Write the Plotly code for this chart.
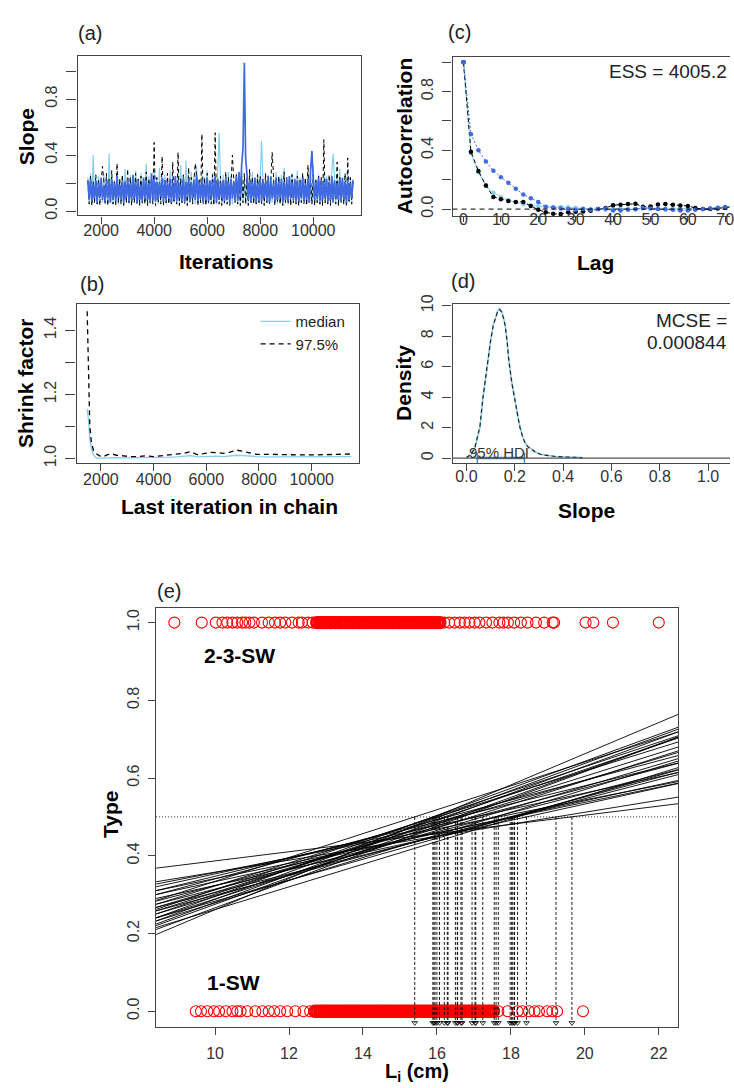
import plotly.graph_objects as go

W, H = 734, 1088
TICKF = "Liberation Sans Narrow, Arial Narrow, Liberation Sans, Arial, sans-serif"
TXTF = "Liberation Sans, Arial, sans-serif"
FRAME = "#444"
TICKC = "#333"
SKY = "#87CEEB"
ROYAL = "#4169E1"
STEEL = "#4682B4"
RED = "#FF0000"

# ---------------- (a) MCMC trace of the slope (3 chains) ----------------
iters = list(range(1500, 11501, 50))
chain_sky = [
    0.24,0.06,0.27,0.05,0.40,0.07,0.22,0.05,0.25,0.08,0.21,0.06,0.26,0.05,0.23,0.07,0.41,0.06,0.24,0.05,
    0.22,0.07,0.28,0.05,0.23,0.06,0.25,0.04,0.30,0.07,0.22,0.05,0.26,0.06,0.24,0.08,0.29,0.05,0.23,0.06,
    0.27,0.05,0.22,0.07,0.34,0.06,0.25,0.05,0.23,0.07,0.28,0.06,0.24,0.05,0.31,0.07,0.22,0.06,0.26,0.05,
    0.23,0.07,0.29,0.05,0.25,0.06,0.22,0.08,0.27,0.05,0.33,0.06,0.24,0.07,0.36,0.05,0.23,0.06,0.28,0.07,
    0.25,0.05,0.32,0.06,0.23,0.07,0.26,0.05,0.24,0.06,0.29,0.05,0.22,0.07,0.27,0.06,0.25,0.05,0.30,0.56,
    0.24,0.06,0.26,0.05,0.23,0.07,0.28,0.06,0.25,0.05,0.22,0.07,0.27,0.06,0.24,0.05,0.29,0.07,0.23,0.06,
    0.26,0.05,0.24,0.07,0.28,0.06,0.23,0.05,0.27,0.06,0.25,0.50,0.24,0.06,0.22,0.07,0.26,0.05,0.25,0.06,
    0.23,0.07,0.28,0.05,0.24,0.06,0.26,0.05,0.31,0.07,0.22,0.06,0.25,0.05,0.27,0.07,0.23,0.06,0.29,0.05,
    0.24,0.06,0.26,0.07,0.22,0.05,0.28,0.06,0.25,0.05,0.33,0.07,0.23,0.06,0.26,0.05,0.24,0.07,0.27,0.06,
    0.25,0.05,0.23,0.07,0.28,0.41,0.24,0.06,0.26,0.05,0.30,0.07,0.23,0.06,0.25,0.05,0.27,0.06,0.24,0.07,0.23]
chain_black = [
    0.22,0.05,0.25,0.04,0.21,0.06,0.26,0.05,0.23,0.04,0.20,0.32,0.22,0.05,0.27,0.04,0.23,0.06,0.29,0.05,
    0.21,0.04,0.34,0.06,0.23,0.05,0.26,0.04,0.22,0.06,0.30,0.05,0.24,0.04,0.21,0.06,0.27,0.05,0.23,0.04,
    0.25,0.06,0.22,0.05,0.28,0.04,0.23,0.06,0.26,0.05,0.49,0.04,0.24,0.06,0.21,0.05,0.39,0.04,0.23,0.06,
    0.27,0.05,0.22,0.04,0.35,0.06,0.24,0.05,0.42,0.04,0.23,0.06,0.26,0.05,0.21,0.04,0.31,0.06,0.24,0.05,
    0.22,0.34,0.25,0.04,0.23,0.06,0.55,0.05,0.24,0.04,0.27,0.06,0.22,0.05,0.26,0.04,0.56,0.06,0.23,0.05,
    0.25,0.04,0.22,0.06,0.28,0.05,0.24,0.04,0.21,0.40,0.23,0.06,0.26,0.05,0.22,0.04,0.25,0.06,0.27,0.05,
    0.23,0.04,0.30,0.06,0.24,0.05,0.22,0.04,0.26,0.06,0.25,0.05,0.23,0.04,0.27,0.06,0.24,0.05,0.22,0.42,
    0.26,0.04,0.23,0.06,0.25,0.05,0.21,0.04,0.28,0.06,0.24,0.05,0.22,0.04,0.26,0.06,0.23,0.05,0.25,0.04,
    0.22,0.06,0.27,0.05,0.24,0.04,0.33,0.06,0.23,0.05,0.26,0.04,0.22,0.06,0.25,0.05,0.24,0.04,0.51,0.06,
    0.23,0.05,0.26,0.04,0.24,0.06,0.22,0.05,0.35,0.04,0.25,0.06,0.23,0.05,0.27,0.04,0.38,0.06,0.24,0.05,0.23]
chain_royal = [
    0.21,0.08,0.23,0.07,0.19,0.09,0.22,0.06,0.20,0.10,0.24,0.08,0.18,0.07,0.22,0.09,0.21,0.06,0.23,0.08,
    0.20,0.07,0.25,0.09,0.19,0.08,0.22,0.06,0.21,0.10,0.23,0.07,0.20,0.08,0.26,0.09,0.21,0.06,0.22,0.08,
    0.19,0.07,0.24,0.09,0.22,0.08,0.20,0.06,0.27,0.09,0.23,0.07,0.21,0.08,0.20,0.10,0.24,0.07,0.22,0.08,
    0.21,0.09,0.23,0.06,0.20,0.08,0.25,0.07,0.22,0.09,0.19,0.08,0.24,0.06,0.21,0.10,0.23,0.07,0.20,0.09,
    0.22,0.08,0.26,0.07,0.21,0.09,0.23,0.06,0.20,0.08,0.24,0.07,0.22,0.09,0.21,0.08,0.25,0.06,0.23,0.08,
    0.20,0.09,0.22,0.07,0.24,0.08,0.21,0.06,0.23,0.09,0.20,0.08,0.25,0.07,0.28,0.10,0.33,0.45,1.06,0.38,
    0.26,0.08,0.22,0.07,0.21,0.09,0.24,0.06,0.20,0.08,0.23,0.07,0.22,0.09,0.21,0.08,0.25,0.06,0.22,0.09,
    0.20,0.07,0.24,0.08,0.21,0.09,0.23,0.06,0.20,0.08,0.22,0.07,0.25,0.09,0.21,0.08,0.23,0.06,0.22,0.08,
    0.21,0.09,0.24,0.07,0.20,0.08,0.23,0.06,0.30,0.43,0.22,0.08,0.21,0.09,0.24,0.07,0.22,0.08,0.20,0.09,
    0.23,0.07,0.21,0.08,0.25,0.06,0.22,0.09,0.20,0.08,0.23,0.07,0.24,0.09,0.21,0.06,0.22,0.08,0.20,0.09,0.21]

# ---------------- (b) Gelman shrink factor ----------------
shrink_iter = [1480,1530,1580,1640,1720,1820,1950,2100,2250,2400,
               2600,2850,3100,3400,3700,4000,4300,4600,4900,5150,
               5400,5650,5900,6150,6400,6650,6900,7150,7400,7650,
               7900,8300,8700,9100,9600,10100,10600,11100,11500]
shrink_median = [1.155,1.12,1.06,1.03,1.01,1.002,1.0,1.001,1.003,1.004,
                 1.003,1.002,1.002,1.002,1.003,1.002,1.003,1.004,1.005,1.007,
                 1.009,1.005,1.006,1.008,1.007,1.006,1.008,1.010,1.009,1.007,
                 1.006,1.005,1.005,1.005,1.005,1.005,1.005,1.006,1.006]
shrink_q975 = [1.46,1.30,1.10,1.05,1.025,1.015,1.008,1.006,1.012,1.014,
               1.010,1.008,1.006,1.006,1.008,1.006,1.008,1.010,1.012,1.016,
               1.021,1.012,1.015,1.019,1.018,1.016,1.020,1.026,1.022,1.017,
               1.013,1.013,1.012,1.012,1.011,1.011,1.012,1.014,1.014]

# ---------------- (c) autocorrelation ----------------
lags = list(range(0, 73, 2))
acf_sky = [1.0,0.38,0.25,0.16,0.112,0.08,0.06,0.045,0.035,0.025,
           0.02,0.015,0.012,0.015,0.012,0.01,0.005,0.0,0.0,-0.005,
           0.0,0.005,0.0,-0.005,0.005,0.01,0.0,-0.005,0.0,0.005,
           0.005,0.0,0.0,0.005,0.01,0.015,0.02]
acf_black = [1.0,0.39,0.26,0.16,0.083,0.067,0.056,0.049,0.049,0.022,
             -0.004,-0.022,-0.031,-0.034,-0.022,-0.018,-0.016,-0.011,0.0,0.007,
             0.027,0.030,0.034,0.036,0.016,0.018,0.031,0.034,0.029,0.025,
             0.022,0.007,0.0,0.0,0.004,0.011,0.015]
acf_royal = [1.0,0.51,0.40,0.325,0.262,0.217,0.18,0.139,0.10,0.074,
             0.049,0.016,0.011,0.005,0.0,-0.005,0.0,-0.005,0.0,0.005,
             -0.01,-0.01,-0.005,0.0,0.01,0.005,0.0,0.0,-0.005,-0.01,
             -0.01,-0.005,0.0,0.005,0.01,0.01,0.02]
ess_text = "ESS = 4005.2"

# ---------------- (d) posterior density of slope ----------------
dens_x = [0.00,0.02,0.035,0.045,0.056,0.067,0.078,0.089,0.100,0.111,
          0.122,0.130,0.137,0.145,0.153,0.160,0.168,0.175,0.187,0.200,
          0.210,0.220,0.232,0.245,0.26,0.275,0.29,0.31,0.34,0.37,
          0.41,0.45,0.48]
dens_black = [0.03,0.25,0.7,1.3,2.1,3.84,5.2,6.45,7.7,8.7,
              9.35,9.65,9.75,9.6,9.2,8.7,7.7,6.45,5.0,3.84,
              2.9,2.1,1.4,0.9,0.65,0.5,0.35,0.22,0.14,0.1,
              0.07,0.05,0.03]
dens_sky = [0.02,0.22,0.65,1.25,2.0,3.7,5.1,6.4,7.7,8.75,
            9.4,9.7,9.8,9.65,9.25,8.75,7.75,6.5,5.05,3.9,
            2.95,2.15,1.45,0.95,0.7,0.52,0.36,0.23,0.15,0.1,
            0.07,0.05,0.03]
hdi = [0.045, 0.24]
mcse_lines = ["MCSE =", "0.000844"]

# ---------------- (e) logistic fits ----------------
# observed fish lengths, 2-3-SW (Type = 1): sparse tails and densely packed core
type1_sparse_x = [8.90,9.64,10.02,10.20,10.33,10.47,10.60,10.73,10.82,10.93,11.05,11.27,11.45,11.62,11.76,
                  11.90,12.08,12.26,12.35,12.52,12.64,16.20,16.33,16.48,16.62,16.75,16.88,17.02,17.15,17.33,
                  17.50,17.69,17.80,17.92,18.09,18.27,18.45,18.68,18.90,19.13,19.17,20.02,20.23,20.76,22.00]
type1_dense_x = [12.75,12.81,12.87,12.92,12.98,13.03,13.10,13.14,13.21,13.26,13.33,13.37,13.44,13.50,13.55,
                 13.62,13.67,13.73,13.78,13.85,13.90,13.96,14.02,14.07,14.13,14.18,14.25,14.30,14.36,14.41,
                 14.47,14.53,14.58,14.64,14.70,14.75,14.81,14.86,14.93,14.98,15.04,15.09,15.15,15.21,15.26,
                 15.32,15.37,15.44,15.49,15.55,15.60,15.66,15.72,15.77,15.83,15.89,15.94,16.01,16.08]
# 1-SW (Type = 0)
type0_sparse_x = [9.48,9.62,9.79,9.97,10.11,10.29,10.47,10.60,10.69,10.87,11.09,11.28,11.45,11.60,11.76,
                  11.95,12.17,12.39,12.57,17.66,17.91,18.18,18.31,18.49,18.64,18.76,18.98,19.12,19.25,19.95]
type0_dense_x = [12.70,12.76,12.83,12.88,12.94,13.00,13.05,13.11,13.17,13.22,13.28,13.34,13.39,13.45,13.51,
                 13.56,13.62,13.68,13.73,13.79,13.85,13.90,13.96,14.02,14.07,14.13,14.19,14.24,14.30,14.36,
                 14.41,14.47,14.53,14.58,14.64,14.70,14.75,14.81,14.87,14.92,14.98,15.04,15.09,15.15,15.21,
                 15.26,15.32,15.38,15.43,15.49,15.55,15.60,15.66,15.72,15.77,15.83,15.89,15.94,16.00,16.06,
                 16.11,16.17,16.23,16.28,16.34,16.40,16.45,16.51,16.57,16.62,16.68,16.74,16.79,16.85,16.91,
                 16.96,17.02,17.08,17.13,17.19,17.25,17.30,17.36,17.42,17.47,17.53]
curve_x_ends = [8.4, 22.53]
cross_level = 0.5
arrow_y = -0.03
curve_x50 = [15.40,15.89,15.95,16.07,16.20,16.28,16.50,16.56,16.65,16.95,17.03,17.24,17.55,17.60,17.66,
             17.98,18.02,18.09,18.18,18.42,19.22,19.65,16.00,16.55,17.05,18.05,16.30,15.92,16.68,18.10]
curve_left = [0.285,0.240,0.197,0.232,0.250,0.224,0.258,0.310,0.267,0.240,0.283,0.250,0.275,0.232,0.327,
              0.258,0.300,0.267,0.215,0.290,0.333,0.368,0.275,0.220,0.320,0.240,0.300,0.262,0.210,0.310]
curve_right = [0.719,0.731,0.764,0.726,0.703,0.719,0.680,0.639,0.666,0.670,0.638,0.650,0.622,0.644,0.591,
               0.615,0.594,0.609,0.627,0.586,0.551,0.534,0.693,0.706,0.614,0.621,0.658,0.709,0.705,0.587]


def px(x):
    return x / W


def py(y):
    return 1 - y / H


fig = go.Figure()

# (a)
for vals, col, dash, lw in [(chain_sky, SKY, "solid", 1.2), (chain_black, "black", "4px,3px", 1.0),
                            (chain_royal, ROYAL, "solid", 1.7)]:
    fig.add_trace(go.Scatter(x=iters, y=vals, mode="lines", xaxis="x", yaxis="y",
                             line=dict(color=col, width=lw, dash=dash, simplify=False),
                             showlegend=False, hoverinfo="skip"))

# (b)
fig.add_trace(go.Scatter(x=shrink_iter, y=shrink_median, mode="lines", xaxis="x2", yaxis="y2",
                         line=dict(color=SKY, width=1.3), name="median"))
fig.add_trace(go.Scatter(x=shrink_iter, y=shrink_q975, mode="lines", xaxis="x2", yaxis="y2",
                         line=dict(color="black", width=1.3, dash="5px,4px"), name="97.5%"))

# (c)
for vals, col, dash in [(acf_sky, SKY, "solid"), (acf_black, "black", "4px,3px"),
                        (acf_royal, ROYAL, "2px,2px")]:
    fig.add_trace(go.Scatter(x=lags, y=vals, mode="lines+markers", xaxis="x3", yaxis="y3",
                             line=dict(color=col, width=1, dash=dash),
                             marker=dict(color=col, size=4.5),
                             showlegend=False, hoverinfo="skip"))

# (d)
fig.add_trace(go.Scatter(x=dens_x, y=dens_sky, mode="lines", xaxis="x4", yaxis="y4",
                         line=dict(color=SKY, width=1.6), showlegend=False))
fig.add_trace(go.Scatter(x=dens_x, y=dens_black, mode="lines", xaxis="x4", yaxis="y4",
                         line=dict(color="#222", width=1.2, dash="4px,3px"), showlegend=False))
fig.add_trace(go.Scatter(x=hdi, y=[0, 0], mode="lines", xaxis="x4", yaxis="y4",
                         line=dict(color=STEEL, width=2.5), showlegend=False))
for h in hdi:
    fig.add_trace(go.Scatter(x=[h, h], y=[-0.3, 0.35], mode="lines", xaxis="x4", yaxis="y4",
                             line=dict(color=STEEL, width=1.5), showlegend=False))

# (e)
for xs, yv, lw in [(type1_sparse_x, 1, 1.1), (type1_dense_x, 1, 2.4),
                   (type0_sparse_x, 0, 1.1), (type0_dense_x, 0, 2.4)]:
    fig.add_trace(go.Scatter(x=xs, y=[yv] * len(xs), mode="markers", xaxis="x5", yaxis="y5",
                             marker=dict(symbol="circle-open", size=11, color=RED, line=dict(width=lw)),
                             showlegend=False))
cx, cy = [], []
for lft, x50, rgt in zip(curve_left, curve_x50, curve_right):
    cx += [curve_x_ends[0], x50, curve_x_ends[1], None]
    cy += [lft, cross_level, rgt, None]
fig.add_trace(go.Scatter(x=cx, y=cy, mode="lines", xaxis="x5", yaxis="y5",
                         line=dict(color="black", width=0.9), showlegend=False))
vx, vy = [], []
for x50 in curve_x50:
    vx += [x50, x50, None]
    vy += [cross_level, arrow_y, None]
fig.add_trace(go.Scatter(x=vx, y=vy, mode="lines", xaxis="x5", yaxis="y5",
                         line=dict(color="black", width=0.9, dash="3px,2px"), showlegend=False))
fig.add_trace(go.Scatter(x=curve_x50, y=[arrow_y] * len(curve_x50), mode="markers", xaxis="x5", yaxis="y5",
                         marker=dict(symbol="triangle-down-open", size=5, color="black", line=dict(width=0.8)),
                         showlegend=False))


def axis(domain, rng, dtick, ticklen=7, mirror=True, fmt=None, angle=0, minor=None, tick0=0,
         standoff=3):
    d = dict(domain=domain, range=rng, dtick=dtick, tick0=tick0, showline=True, linecolor=FRAME,
             linewidth=1.4, mirror=mirror, ticks="outside", ticklen=ticklen, tickwidth=1,
             tickcolor=FRAME, showgrid=False, zeroline=False, tickangle=angle,
             ticklabelstandoff=standoff, ticklabeloverflow="allow",
             tickfont=dict(family=TICKF, size=16, color=TICKC))
    if fmt:
        d["tickformat"] = fmt
    if minor:
        d["minor"] = dict(dtick=minor, tick0=0, ticks="outside", ticklen=ticklen, tickwidth=1,
                          tickcolor=FRAME, showgrid=False)
    return d


layout = dict(
    width=W, height=H, margin=dict(l=0, r=0, t=0, b=0),
    paper_bgcolor="white", plot_bgcolor="white",
    xaxis=axis([px(78), px(363)], [1111, 11801], 2000, fmt="d", standoff=-7),
    yaxis=axis([py(208), py(47)], [-0.03, 1.105], 0.4, ticklen=10, fmt=".1f", angle=-90, minor=0.2),
    xaxis2=axis([px(77), px(361)], [1078, 11797], 2000, fmt="d", standoff=-5),
    yaxis2=axis([py(459), py(298)], [0.9855, 1.482], 0.2, ticklen=10, fmt=".1f", angle=-90, minor=0.1,
                tick0=1.0),
    xaxis3=axis([px(455), 1.0], [-2.93, 71.28], 10, ticklen=5, standoff=-16),
    yaxis3=axis([py(208.7), py(47.7)], [-0.047, 1.035], 0.4, ticklen=9, fmt=".1f", angle=-90,
                minor=0.2, mirror=False),
    xaxis4=axis([px(455), 1.0], [-0.0576, 1.0905], 0.2, fmt=".1f", standoff=-8),
    yaxis4=axis([py(459), py(298.3)], [-0.33, 10.08], 2, ticklen=9, angle=-90, mirror=False),
    xaxis5=axis([px(157), px(682)], [8.407, 22.527], 2, standoff=5),
    yaxis5=axis([py(1030), py(606)], [-0.040, 1.037], 0.2, fmt=".1f", angle=-90),
    legend=dict(x=px(257), y=py(299), xanchor="left", yanchor="top", bgcolor="rgba(0,0,0,0)",
                font=dict(family=TXTF, size=15, color="#222"), tracegroupgap=0),
    showlegend=True,
)
for k in ["xaxis", "xaxis2", "xaxis3", "xaxis4", "xaxis5"]:
    layout[k]["anchor"] = "y" + k[5:]
for k in ["yaxis", "yaxis2", "yaxis3", "yaxis4", "yaxis5"]:
    layout[k]["anchor"] = "x" + k[5:]

layout["shapes"] = [
    dict(type="line", xref="x3 domain", yref="y3", x0=0, x1=1, y0=0, y1=0,
         line=dict(color="black", width=1, dash="5px,4px")),
    dict(type="line", xref="x4 domain", yref="y4", x0=0, x1=1, y0=0, y1=0,
         line=dict(color="#555", width=1.2)),
    dict(type="line", xref="x5 domain", yref="y5", x0=0, x1=1, y0=cross_level, y1=cross_level,
         line=dict(color="black", width=0.9, dash="1px,2px")),
]


def ann(text, x, y, size=21, bold=False, angle=0, xanchor="center", color="black"):
    t = "<b>%s</b>" % text if bold else text
    return dict(text=t, x=px(x), y=py(y), xref="paper", yref="paper", showarrow=False,
                xanchor=xanchor, yanchor="middle", textangle=angle,
                font=dict(family=TXTF, size=size, color=color))


layout["annotations"] = [
    ann("(a)", 90, 23, size=20, color="#222"),
    ann("(b)", 93, 278, size=20, color="#222"),
    ann("(c)", 462, 22, size=20, color="#222"),
    ann("(d)", 466, 275, size=20, color="#222"),
    ann("(e)", 170, 589, size=20, color="#222"),
    ann("Slope", 27, 128, bold=True, angle=-90),
    ann("Iterations", 228, 255, bold=True),
    ann("Shrink factor", 25, 378, bold=True, angle=-90),
    ann("Last iteration in chain", 231, 503, bold=True),
    ann("Autocorrelation", 407, 128, bold=True, angle=-90),
    ann("Lag", 599, 256, bold=True),
    ann("Density", 405, 378, bold=True, angle=-90),
    ann("Slope", 590, 507, bold=True),
    ann("Type", 111, 815, bold=True, angle=-90),
    ann("L<sub>i</sub> (cm)", 419, 1076, size=20, bold=True),
    ann(ess_text, 733, 62, size=19, xanchor="right", color="#222"),
    ann(mcse_lines[0], 733, 315, size=19, xanchor="right", color="#222"),
    ann(mcse_lines[1], 733, 337, size=19, xanchor="right", color="#222"),
    ann("95% HDI", 502, 448, size=15, color="#333"),
    ann("2-3-SW", 203, 654, bold=True, xanchor="left"),
    ann("1-SW", 206, 985, bold=True, xanchor="left"),
]

fig.update_layout(**layout)
fig.write_html("out.html")
